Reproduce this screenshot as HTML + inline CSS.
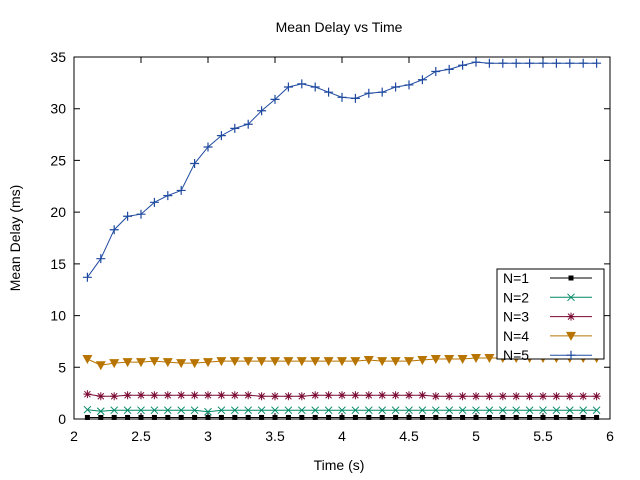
<!DOCTYPE html>
<html><head><meta charset="utf-8"><style>
body{margin:0;background:#fff}
svg{display:block;font-family:"Liberation Sans",sans-serif}
</style></head><body>
<svg id="chart" width="640" height="480">
<rect width="640" height="480" fill="#fff"/>
<text x="339" y="32" font-size="14" text-anchor="middle">Mean Delay vs Time</text>
<text x="339" y="470" font-size="14" text-anchor="middle">Time (s)</text>
<text transform="translate(20,238) rotate(-90)" font-size="14" text-anchor="middle">Mean Delay (ms)</text>
<g id="axes"></g><g id="series"></g><g id="legend"></g>
<rect x="74" y="57" width="536" height="362" fill="none" stroke="#000"/>
</svg>
<script>
const times=[2.1,2.2,2.3,2.4,2.5,2.6,2.7,2.8,2.9,3.0,3.1,3.2,3.3,3.4,3.5,3.6,3.7,3.8,3.9,4.0,4.1,4.2,4.3,4.4,4.5,4.6,4.7,4.8,4.9,5.0,5.1,5.2,5.3,5.4,5.5,5.6,5.7,5.8,5.9];
const n1=[0.15,0.15,0.15,0.15,0.15,0.15,0.15,0.15,0.15,0.15,0.15,0.15,0.15,0.15,0.15,0.15,0.15,0.15,0.15,0.15,0.15,0.15,0.15,0.15,0.15,0.15,0.15,0.15,0.15,0.15,0.15,0.15,0.15,0.15,0.15,0.15,0.15,0.15,0.15];
const n2=[0.9,0.75,0.85,0.85,0.85,0.85,0.85,0.85,0.85,0.7,0.85,0.85,0.85,0.85,0.85,0.85,0.85,0.85,0.85,0.85,0.85,0.85,0.85,0.85,0.85,0.85,0.85,0.85,0.85,0.85,0.85,0.85,0.85,0.85,0.85,0.85,0.85,0.85,0.85];
const n3=[2.4,2.2,2.2,2.3,2.3,2.3,2.3,2.3,2.3,2.3,2.3,2.3,2.3,2.2,2.2,2.2,2.2,2.3,2.3,2.3,2.3,2.3,2.3,2.3,2.3,2.3,2.2,2.2,2.2,2.2,2.2,2.2,2.2,2.2,2.2,2.2,2.2,2.2,2.2];
const n4=[5.8,5.2,5.4,5.5,5.5,5.6,5.5,5.4,5.4,5.5,5.6,5.6,5.6,5.6,5.6,5.6,5.6,5.6,5.6,5.6,5.6,5.7,5.6,5.6,5.6,5.7,5.8,5.8,5.8,5.9,5.9,5.9,5.9,5.9,5.9,5.9,5.9,5.9,5.9];
const n5=[13.7,15.5,18.3,19.6,19.8,20.95,21.6,22.1,24.7,26.3,27.4,28.1,28.5,29.8,30.9,32.1,32.4,32.1,31.6,31.1,31.0,31.5,31.6,32.1,32.3,32.8,33.6,33.8,34.2,34.5,34.4,34.4,34.4,34.4,34.4,34.4,34.4,34.4,34.4];
const xTicks=[2,2.5,3,3.5,4,4.5,5,5.5,6];
const yTicks=[0,5,10,15,20,25,30,35];
const seriesNames=["N=1","N=2","N=3","N=4","N=5"];
const NS="http://www.w3.org/2000/svg";
const X=v=>74+(v-2)*536/4, Y=v=>419-v*362/35;
function mk(t,a,p){const e=document.createElementNS(NS,t);for(const k in a)e.setAttribute(k,a[k]);p.appendChild(e);return e;}
const axes=document.getElementById('axes');
xTicks.forEach(t=>{const x=X(t);
 mk('path',{d:`M${x} 419v-6M${x} 57v6`,stroke:'#000'},axes);
 const l=mk('text',{x:x,y:441,'font-size':14,'text-anchor':'middle'},axes);l.textContent=t;
 
 });
yTicks.forEach(t=>{const y=Y(t);
 mk('path',{d:`M74 ${y}h6M610 ${y}h-6`,stroke:'#000'},axes);
 const l=mk('text',{x:66,y:y+5,'font-size':14,'text-anchor':'end'},axes);l.textContent=t;
 
 });
const colors=['#000','#008866','#7a0a33','#b87400','#1f4aa0'];
function marker(k,x,y,c,p){
 if(k==0)mk('rect',{x:x-2.5,y:y-2.5,width:5,height:5,fill:c},p);
 else if(k==1)mk('path',{d:`M${x-3.5} ${y-3.5}l7 7M${x-3.5} ${y+3.5}l7 -7`,stroke:c,'stroke-width':1},p);
 else if(k==2)mk('path',{d:`M${x-4} ${y}h8M${x} ${y-4}v8M${x-3} ${y-3}l6 6M${x-3} ${y+3}l6 -6`,stroke:c,'stroke-width':1},p);
 else if(k==3)mk('path',{d:`M${x-5} ${y-4}h10l-5 9z`,fill:c},p);
 else mk('path',{d:`M${x-4.5} ${y}h9M${x} ${y-4.5}v9`,stroke:c,'stroke-width':1.2},p);
}
const sg=document.getElementById('series');
[n1,n2,n3,n4,n5].forEach((d,k)=>{
 const g=mk('g',{},sg);
 
 
 mk('polyline',{points:d.map((v,i)=>X(times[i])+','+Y(v)).join(' '),fill:'none',stroke:colors[k],'stroke-width':1},g);
 d.forEach((v,i)=>marker(k,X(times[i]),Y(v),colors[k],g));
});
const lg=document.getElementById('legend');


mk('rect',{x:497,y:269,width:107,height:90,fill:'#fff',stroke:'#000'},lg);
seriesNames.forEach((n,k)=>{const y=278+k*19.3;
 const e=mk('g',{},lg);
 
 
 const t=mk('text',{x:503,y:y+5,'font-size':14},e);t.textContent=n;
 mk('path',{d:`M550 ${y}h42`,stroke:colors[k]},e);
 marker(k,571,y,colors[k],e);
});
</script>
</body></html>
